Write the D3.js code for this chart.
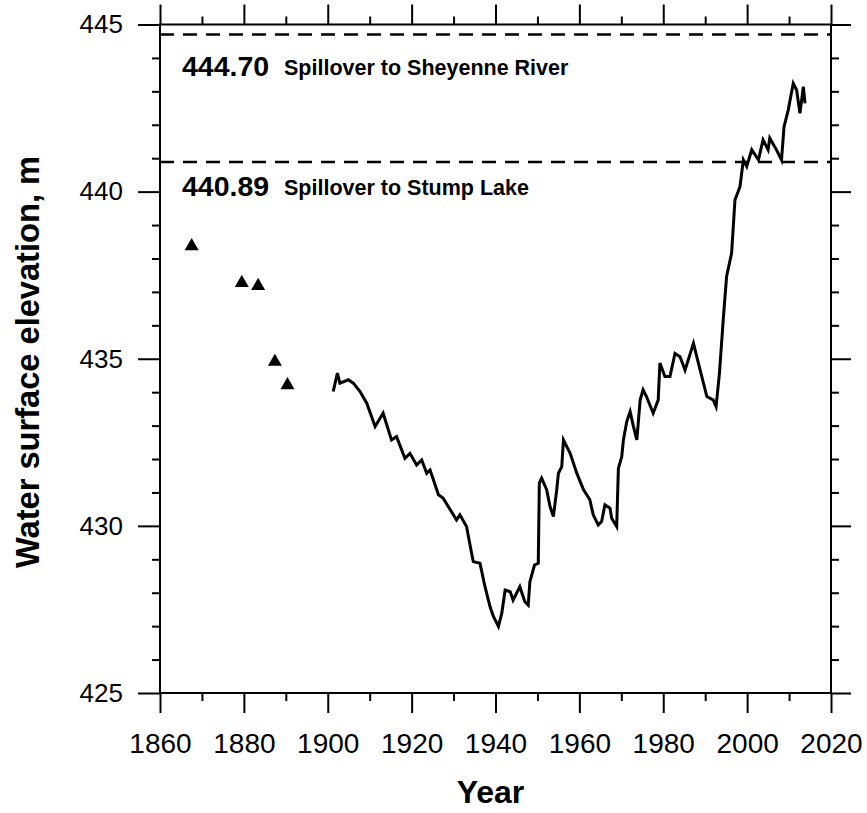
<!DOCTYPE html>
<html>
<head>
<meta charset="utf-8">
<script src="https://cdn.jsdelivr.net/npm/d3@7"></script>
<style>
  body { margin: 0; background: #fff; }
  svg { display: block; }
</style>
</head>
<body>
<svg id="chart"></svg>
<script>
// Set size of the chart and the plot box inside it
let outerWidth = 867;
let outerHeight = 813;
let boxLeft = 160, boxRight = 831, boxTop = 24.5, boxBottom = 693;
const font = "'Liberation Sans', Arial, sans-serif";

// measured lake level (line), years and elevations in m
const years = [1901.3, 1902.3, 1902.9, 1904.9, 1906.1, 1907.7, 1909.3, 1911.3, 1913.2, 1915.2,
  1916.4, 1918.4, 1919.6, 1921.2, 1922.4, 1923.6, 1924.4, 1926.4, 1927.5, 1930.7,
  1931.5, 1933.1, 1934.3, 1934.7, 1936.3, 1937.5, 1938.7, 1939.5, 1940.7, 1941.5,
  1942.3, 1943.5, 1944.2, 1945.8, 1947.0, 1947.8, 1948.2, 1949.3, 1950.2, 1950.45,
  1951.0, 1952.2, 1953.0, 1953.8, 1954.6, 1955.0, 1955.8, 1956.2, 1957.8, 1959.4,
  1961.0, 1962.5, 1963.3, 1964.5, 1965.3, 1966.1, 1967.3, 1967.7, 1968.9, 1969.3,
  1970.1, 1970.5, 1971.3, 1972.1, 1972.9, 1973.7, 1974.5, 1975.2, 1976.0, 1977.6,
  1978.8, 1979.2, 1980.4, 1981.6, 1982.8, 1984.0, 1985.2, 1987.2, 1988.8, 1990.4,
  1991.9, 1992.6, 1993.4, 1994.3, 1995.1, 1996.3, 1997.1, 1998.3, 1999.1, 1999.9,
  2001.1, 2002.7, 2003.8, 2005.0, 2005.4, 2007.0, 2008.2, 2008.8, 2009.8, 2011.0,
  2011.8, 2012.6, 2013.4, 2013.8];
const levels = [434.02, 434.57, 434.27, 434.37, 434.27, 434.02, 433.67, 432.97, 433.37, 432.57,
  432.67, 432.02, 432.17, 431.82, 431.97, 431.57, 431.67, 430.93, 430.83, 430.18,
  430.33, 429.98, 429.18, 428.93, 428.88, 428.18, 427.58, 427.29, 426.99, 427.39,
  428.08, 428.03, 427.78, 428.18, 427.73, 427.63, 428.33, 428.83, 428.88, 431.28,
  431.43, 431.08, 430.58, 430.28, 431.08, 431.57, 431.77, 432.57, 432.17, 431.57,
  431.08, 430.78, 430.33, 430.03, 430.13, 430.63, 430.53, 430.23, 429.98, 431.72,
  432.07, 432.57, 433.12, 433.42, 432.97, 432.57, 433.77, 434.07, 433.87, 433.37,
  433.77, 434.87, 434.47, 434.47, 435.16, 435.06, 434.66, 435.46, 434.66, 433.87,
  433.77, 433.57, 434.57, 436.16, 437.46, 438.16, 439.75, 440.15, 440.95, 440.75,
  441.25, 440.95, 441.55, 441.25, 441.60, 441.25, 440.95, 441.94, 442.44, 443.24,
  443.04, 442.34, 443.14, 442.64];

// historic estimates (triangles)
const earlyYears = [1867.55, 1879.5, 1883.4, 1887.4, 1890.4];
const earlyLevels = [438.37, 437.27, 437.18, 434.91, 434.21];

// spillover thresholds
const spillLevels = [444.70, 440.89];
const spillNames = ["Spillover to Sheyenne River", "Spillover to Stump Lake"];

const xTicks = [1860, 1880, 1900, 1920, 1940, 1960, 1980, 2000, 2020];
const yTicks = [425, 430, 435, 440, 445];

let svg = d3.select('#chart')
  .attr('width', outerWidth)
  .attr('height', outerHeight);

let xScale = d3.scaleLinear().domain([1860, 2020]).range([boxLeft, boxRight]);
let yScale = d3.scaleLinear().domain([425, 445]).range([boxBottom, boxTop]);

let xMinor = d3.range(1870, 2020, 20);
let yMinor = d3.range(426, 445, 1).filter(v => v % 5 !== 0);

function styleAxis(g) {
  g.select('.domain').remove();
  g.selectAll('line').attr('stroke', '#000').attr('stroke-width', 2);
}

// bottom axis with labels
svg.append('g')
  .attr('transform', `translate(0,${boxBottom})`)
  .call(d3.axisBottom(xScale).tickValues(xTicks).tickFormat(d3.format('d')).tickSize(20).tickPadding(20))
  .call(styleAxis)
  .call(g => g.selectAll('text')
    .style('font-family', font).style('font-size', '28px').attr('fill', '#000'));
svg.append('g')
  .attr('transform', `translate(0,${boxBottom})`)
  .call(d3.axisBottom(xScale).tickValues(xMinor).tickSize(8).tickFormat(''))
  .call(styleAxis);

// top axis, ticks only
svg.append('g')
  .attr('transform', `translate(0,${boxTop})`)
  .call(d3.axisTop(xScale).tickValues(xTicks).tickSize(20).tickFormat(''))
  .call(styleAxis);
svg.append('g')
  .attr('transform', `translate(0,${boxTop})`)
  .call(d3.axisTop(xScale).tickValues(xMinor).tickSize(8).tickFormat(''))
  .call(styleAxis);

// left axis with labels
svg.append('g')
  .attr('transform', `translate(${boxLeft},0)`)
  .call(d3.axisLeft(yScale).tickValues(yTicks).tickSize(22).tickPadding(15))
  .call(styleAxis)
  .call(g => g.selectAll('text')
    .style('font-family', font).style('font-size', '26px').attr('fill', '#000'));
svg.append('g')
  .attr('transform', `translate(${boxLeft},0)`)
  .call(d3.axisLeft(yScale).tickValues(yMinor).tickSize(8).tickFormat(''))
  .call(styleAxis);

// right axis, ticks only
svg.append('g')
  .attr('transform', `translate(${boxRight},0)`)
  .call(d3.axisRight(yScale).tickValues(yTicks).tickSize(20).tickFormat(''))
  .call(styleAxis);
svg.append('g')
  .attr('transform', `translate(${boxRight},0)`)
  .call(d3.axisRight(yScale).tickValues(yMinor).tickSize(8).tickFormat(''))
  .call(styleAxis);

// plot frame
svg.append('rect')
  .attr('x', boxLeft).attr('y', boxTop)
  .attr('width', boxRight - boxLeft).attr('height', boxBottom - boxTop)
  .attr('fill', 'none').attr('stroke', '#000').attr('stroke-width', 2);

// spillover lines and their labels
spillLevels.forEach(function(v, i) {
  svg.append('line')
    .attr('x1', boxLeft).attr('x2', boxRight)
    .attr('y1', yScale(v)).attr('y2', yScale(v))
    .attr('stroke', '#000').attr('stroke-width', 2.5)
    .attr('stroke-dasharray', '14,9');
  let ty = yScale(v) + (i === 0 ? 41 : 34);
  svg.append('text')
    .attr('x', 182).attr('y', ty)
    .style('font-family', font).style('font-weight', 'bold').style('font-size', '28.5px')
    .text(v.toFixed(2));
  svg.append('text')
    .attr('x', 284).attr('y', ty - 1)
    .style('font-family', font).style('font-weight', 'bold').style('font-size', '21.5px')
    .text(spillNames[i]);
});

// lake level line
let line = d3.line()
  .x((d, i) => xScale(years[i]))
  .y(d => yScale(d));
svg.append('path')
  .datum(levels)
  .attr('d', line)
  .attr('fill', 'none')
  .attr('stroke', '#000')
  .attr('stroke-width', 3)
  .attr('stroke-linejoin', 'miter');

// early triangles
svg.selectAll('.tri')
  .data(earlyLevels)
  .enter().append('path')
  .attr('class', 'tri')
  .attr('d', d3.symbol().type(d3.symbolTriangle).size(85))
  .attr('transform', (d, i) => `translate(${xScale(earlyYears[i])},${yScale(d)})`)
  .attr('fill', '#000');

// axis titles
svg.append('text')
  .attr('x', (boxLeft + boxRight) / 2 - 5)
  .attr('y', 803)
  .attr('text-anchor', 'middle')
  .style('font-family', font).style('font-weight', 'bold').style('font-size', '32px')
  .text('Year');
svg.append('text')
  .attr('transform', 'rotate(-90)')
  .attr('x', -362)
  .attr('y', 39)
  .attr('text-anchor', 'middle')
  .attr('textLength', 412)
  .attr('lengthAdjust', 'spacingAndGlyphs')
  .style('font-family', font).style('font-weight', 'bold').style('font-size', '33px')
  .text('Water surface elevation, m');
</script>
</body>
</html>
